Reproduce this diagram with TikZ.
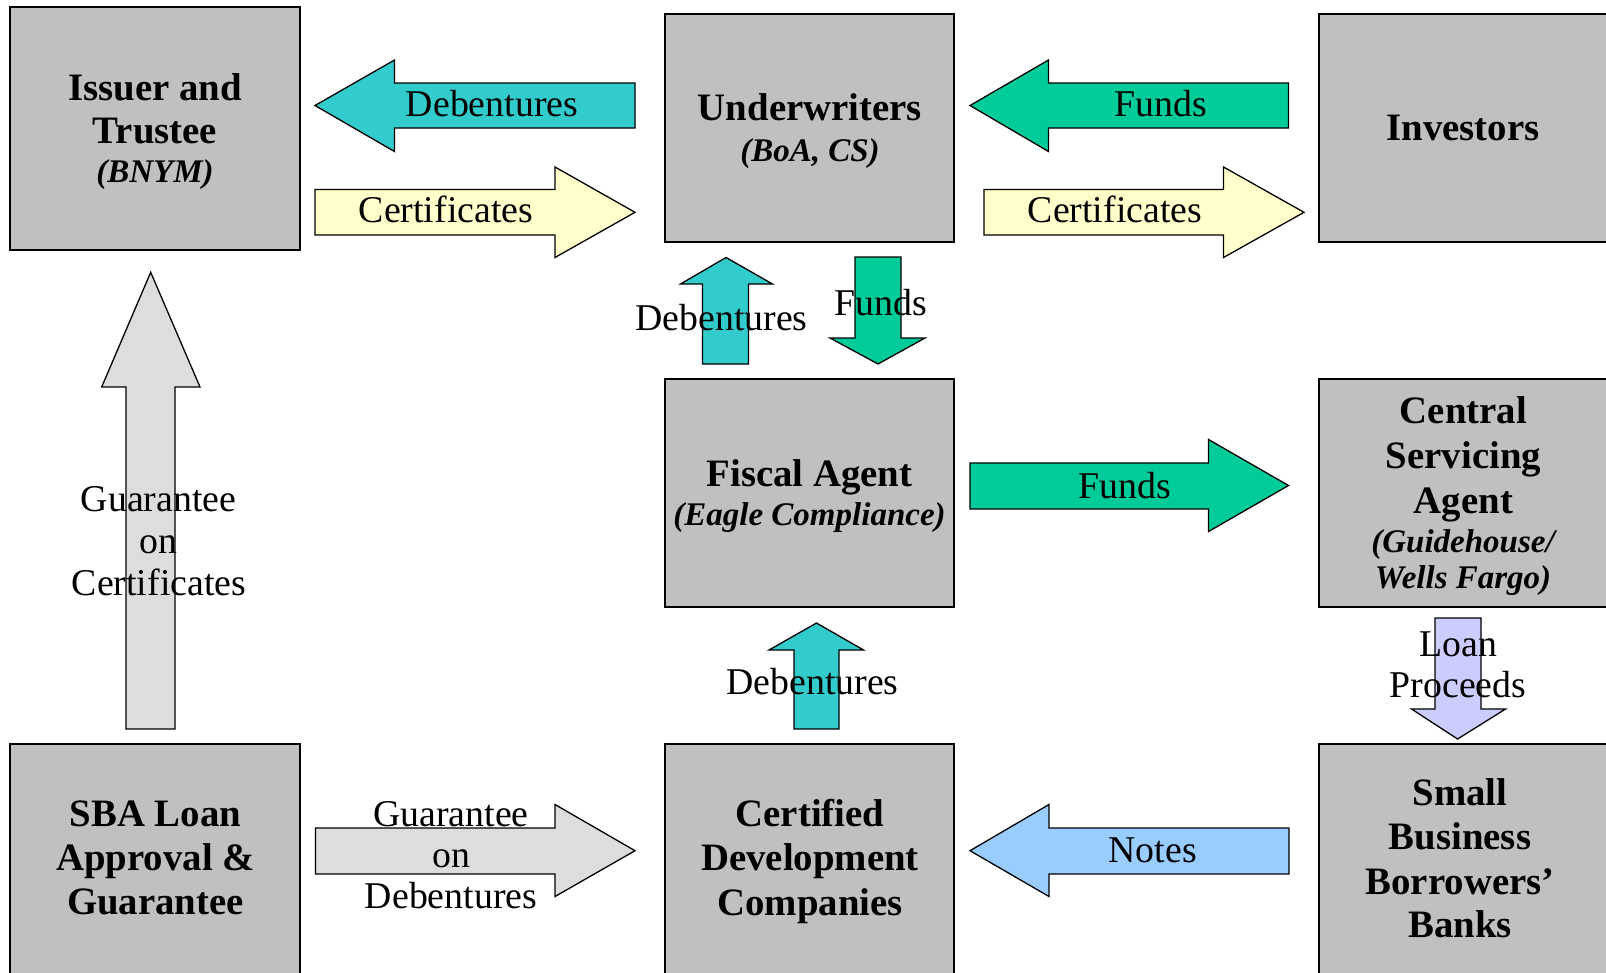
\documentclass[tikz,border=0pt]{standalone}
\usepackage{fontspec}
\setmainfont{Liberation Serif}
\definecolor{boxgray}{HTML}{C0C0C0}
\definecolor{acyan}{HTML}{33CCCC}
\definecolor{agreen}{HTML}{00CC99}
\definecolor{ayellow}{HTML}{FFFFCC}
\definecolor{agray}{HTML}{DDDDDD}
\definecolor{alav}{HTML}{CCCCFF}
\definecolor{ablue}{HTML}{99CCFF}
\tikzset{
  entity/.style={draw=black, fill=boxgray, line width=1.6pt, inner sep=0pt},
  blockarrow/.style={draw=black, line width=1.3pt, line join=miter},
  reg/.style={font=\fontsize{37.8}{44}\selectfont, inner sep=0pt, anchor=base},
  bld/.style={font=\fontsize{38.8}{46}\selectfont\bfseries, inner sep=0pt, anchor=base},
  itb/.style={font=\fontsize{33}{38}\selectfont\bfseries\itshape, inner sep=0pt, anchor=base}
}
\begin{document}
\begin{tikzpicture}[x=1pt,y=-1pt]
\useasboundingbox (0,0) rectangle (1606,972);
\clip (0,0) rectangle (1606,972);
\fill[white] (0,0) rectangle (1606,972);

% boxes
\node[entity, minimum width=290, minimum height=243] (issuer) at (155,128.5) {};
\node[entity, minimum width=289, minimum height=228] (under) at (809.5,128) {};
\node[entity, minimum width=289, minimum height=228] (invest) at (1463.5,128) {};
\node[entity, minimum width=289, minimum height=228] (fiscal) at (809.5,493) {};
\node[entity, minimum width=289, minimum height=228] (central) at (1463.5,493) {};
\node[entity, minimum width=290, minimum height=230] (sba) at (155,859) {};
\node[entity, minimum width=289, minimum height=230] (cdc) at (809.5,859) {};
\node[entity, minimum width=289, minimum height=230] (small) at (1463.5,859) {};

% box texts
\node[bld] (issuer1) at (155,100) {Issuer and};
\node[bld] (issuer2) at (155,143) {Trustee};
\node[itb] (issuer3) at (155,182.5) {(BNYM)};
\node[bld] (under1) at (810,120.5) {Underwriters};
\node[itb] (under2) at (810,161) {(BoA, CS)};
\node[bld] (invest1) at (1463,140) {Investors};
\node[bld] (fiscal1) at (809.5,486) {Fiscal Agent};
\node[itb] (fiscal2) at (809.5,525.7) {(Eagle Compliance)};
\node[bld] (central1) at (1463.5,423) {Central};
\node[bld] (central2) at (1463.5,468) {Servicing};
\node[bld] (central3) at (1463.5,513) {Agent};
\node[itb] (central4) at (1463,552.7) {(Guidehouse/};
\node[itb] (central5) at (1463,588.7) {Wells Fargo)};
\node[bld] (sba1) at (155.5,826.7) {SBA Loan};
\node[bld] (sba2) at (155.5,870) {Approval \&};
\node[bld] (sba3) at (155.5,914) {Guarantee};
\node[bld] (cdc1) at (810,826.7) {Certified};
\node[bld] (cdc2) at (810,870) {Development};
\node[bld] (cdc3) at (810,915) {Companies};
\node[bld] (small1) at (1460,805) {Small};
\node[bld] (small2) at (1460,849.5) {Business};
\node[bld] (small3) at (1460,894) {Borrowers’};
\node[bld] (small4) at (1460,937.5) {Banks};

% block arrows
% Debentures: Underwriters -> Issuer
\draw[blockarrow, fill=acyan] (315,105.5) -- (394.5,60) -- (394.5,83) -- (635,83) -- (635,128) -- (394.5,128) -- (394.5,151.5) -- cycle;
% Certificates: Issuer -> Underwriters
\draw[blockarrow, fill=ayellow] (315,189.5) -- (555,189.5) -- (555,167) -- (635,212.3) -- (555,257.5) -- (555,235) -- (315,235) -- cycle;
% Funds: Investors -> Underwriters
\draw[blockarrow, fill=agreen] (970,105.5) -- (1048.5,60) -- (1048.5,83) -- (1288.5,83) -- (1288.5,128) -- (1048.5,128) -- (1048.5,151.5) -- cycle;
% Certificates: Underwriters -> Investors
\draw[blockarrow, fill=ayellow] (984,189.5) -- (1223.5,189.5) -- (1223.5,167) -- (1304,212.3) -- (1223.5,257.5) -- (1223.5,235) -- (984,235) -- cycle;
% Debentures up: Fiscal -> Underwriters
\draw[blockarrow, fill=acyan] (726,257.5) -- (772.5,284) -- (748.5,284) -- (748.5,364) -- (702.5,364) -- (702.5,284) -- (680.5,284) -- cycle;
% Funds down: Underwriters -> Fiscal
\draw[blockarrow, fill=agreen] (855,257) -- (901,257) -- (901,338) -- (925,338) -- (878,364) -- (830,338) -- (855,338) -- cycle;
% Guarantee on Certificates: SBA -> Issuer
\draw[blockarrow, fill=agray] (150.7,272.3) -- (200,387) -- (175,387) -- (175,729) -- (126,729) -- (126,387) -- (101.7,387) -- cycle;
% Funds: Fiscal -> Central
\draw[blockarrow, fill=agreen] (970,463) -- (1208.5,463) -- (1208.5,439.5) -- (1288.5,485.5) -- (1208.5,531.5) -- (1208.5,509) -- (970,509) -- cycle;
% Debentures up: CDC -> Fiscal
\draw[blockarrow, fill=acyan] (816.5,623) -- (863.5,650) -- (839,650) -- (839,729) -- (794,729) -- (794,650) -- (769,650) -- cycle;
% Loan Proceeds down: Central -> Small
\draw[blockarrow, fill=alav] (1435,618) -- (1481,618) -- (1481,709) -- (1505.5,709) -- (1457.6,739) -- (1411.5,709) -- (1435,709) -- cycle;
% Guarantee on Debentures: SBA -> CDC
\draw[blockarrow, fill=agray] (315.5,828) -- (555,828) -- (555,804.5) -- (635,850.7) -- (555,896.5) -- (555,874) -- (315.5,874) -- cycle;
% Notes: Small -> CDC
\draw[blockarrow, fill=ablue] (970,850.7) -- (1049,804.5) -- (1049,828) -- (1289,828) -- (1289,874) -- (1049,874) -- (1049,896.5) -- cycle;

% arrow labels
\node[reg] (l1) at (492,116.7) {Debentures};
\node[reg] (l2) at (446,222.7) {Certificates};
\node[reg] (l3) at (1160.6,116) {Funds};
\node[reg] (l4) at (1115,222.7) {Certificates};
\node[reg] (l5) at (721.5,330) {Debentures};
\node[reg] (l6) at (880.5,315) {Funds};
\node[reg] (l7a) at (158.5,511.7) {Guarantee};
\node[reg] (l7b) at (158.5,553) {on};
\node[reg] (l7c) at (159,595) {Certificates};
\node[reg] (l8) at (1125,498) {Funds};
\node[reg] (l9) at (812.5,694) {Debentures};
\node[reg] (l10a) at (1458.5,656) {Loan};
\node[reg] (l10b) at (1458,697) {Proceeds};
\node[reg] (l11a) at (451,826.7) {Guarantee};
\node[reg] (l11b) at (451,867) {on};
\node[reg] (l11c) at (451,908) {Debentures};
\node[reg] (l12) at (1152.6,862.7) {Notes};
\end{tikzpicture}
\end{document}
